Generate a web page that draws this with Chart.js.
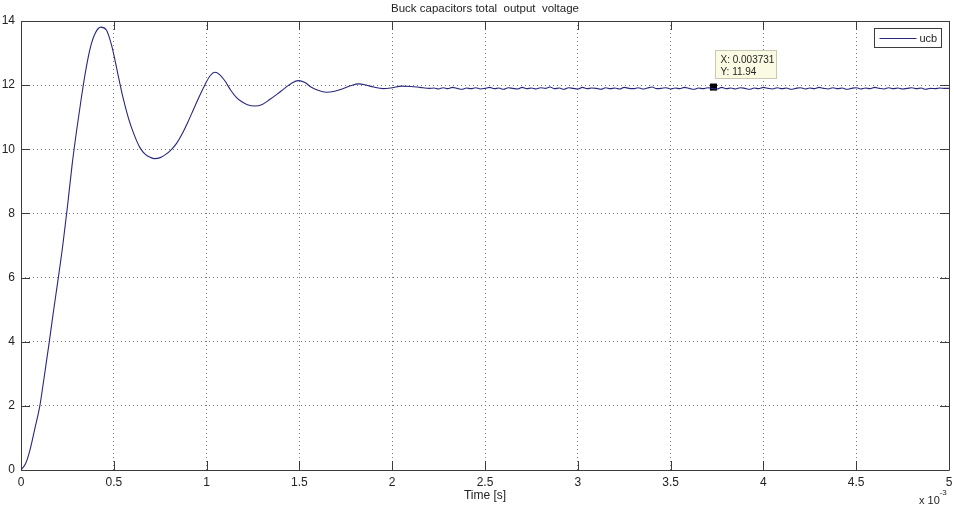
<!DOCTYPE html>
<html>
<head>
<meta charset="utf-8">
<title>Buck capacitors total output voltage</title>
<script src="https://cdn.jsdelivr.net/npm/chart.js@4.4.1/dist/chart.umd.min.js"></script>
<style>
    html, body { margin: 0; padding: 0; background: #fff; }
    canvas { display: block; }
</style>
</head>
<body>
<canvas id="ucbChart" width="954" height="509"></canvas>
<script>
// Simulated buck output voltage, time in ms (axis shows x 10^-3 s)
const timeMs = [
    0, 0.025, 0.05, 0.075, 0.1, 0.125, 0.15, 0.175, 0.2, 0.225,
    0.25, 0.275, 0.3, 0.325, 0.35, 0.375, 0.4, 0.43, 0.46, 0.49,
    0.52, 0.55, 0.58, 0.61, 0.64, 0.67, 0.7, 0.72, 0.75, 0.78,
    0.81, 0.84, 0.87, 0.9, 0.93, 0.96, 0.99, 1.02, 1.045, 1.07,
    1.1, 1.13, 1.16, 1.19, 1.22, 1.26, 1.3, 1.34, 1.38, 1.42,
    1.46, 1.495, 1.53, 1.56, 1.6, 1.645, 1.69, 1.74, 1.78, 1.82,
    1.86, 1.9, 1.95, 2.0, 2.05, 2.1, 2.15, 2.2
];
const ucbStart = [
    0, 0.2, 0.66, 1.3, 1.95, 2.9, 3.9, 4.95, 5.95, 7.0,
    8.2, 9.5, 10.6, 11.6, 12.5, 13.2, 13.62, 13.81, 13.72, 13.2,
    12.4, 11.6, 10.95, 10.45, 10.06, 9.84, 9.74, 9.71, 9.74, 9.84,
    9.99, 10.2, 10.5, 10.86, 11.25, 11.64, 12.0, 12.3, 12.4, 12.33,
    12.12, 11.84, 11.62, 11.48, 11.39, 11.35, 11.4, 11.55, 11.72, 11.9,
    12.07, 12.14, 12.08, 11.95, 11.84, 11.78, 11.81, 11.9, 11.99, 12.04,
    12.0, 11.94, 11.89, 11.92, 11.97, 11.96, 11.93, 11.9
];

// Steady-state ripple, sampled every 0.025 ms from 2.225 ms
const tailStartMs = 2.225;
const tailStepMs = 0.025;
const ucbTail = [
    11.91, 11.88, 11.92, 11.89, 11.93, 11.90, 11.87, 11.91, 11.89, 11.92,
    11.88, 11.90, 11.93, 11.89, 11.91, 11.87, 11.92, 11.90, 11.88, 11.93,
    11.89, 11.91, 11.88, 11.92, 11.90, 11.94, 11.89, 11.91, 11.87, 11.92,
    11.90, 11.88, 11.93, 11.89, 11.91, 11.90, 11.87, 11.92, 11.89, 11.91,
    11.88, 11.93, 11.90, 11.89, 11.92, 11.88, 11.91, 11.94, 11.89, 11.90,
    11.92, 11.88, 11.91, 11.89, 11.93, 11.90, 11.87, 11.91, 11.89, 11.92,
    11.90, 11.88, 11.93, 11.89, 11.91, 11.88, 11.92, 11.90, 11.87, 11.91,
    11.89, 11.93, 11.90, 11.88, 11.92, 11.89, 11.91, 11.87, 11.90, 11.92,
    11.88, 11.91, 11.89, 11.93, 11.90, 11.88, 11.92, 11.89, 11.91, 11.87,
    11.90, 11.92, 11.88, 11.91, 11.89, 11.93, 11.90, 11.88, 11.92, 11.89,
    11.91, 11.88, 11.90, 11.92, 11.89, 11.91, 11.87, 11.90, 11.89, 11.91, 11.90, 11.90
];

const xTicks = [0, 0.5, 1, 1.5, 2, 2.5, 3, 3.5, 4, 4.5, 5];
const yTicks = [0, 2, 4, 6, 8, 10, 12, 14];

// Data cursor
const tipTimeMs = 3.731;
const tipValue = 11.94;

const lineColor = '#27277e';
const axisColor = '#3c3c3c';
const textColor = '#232323';
const fontFamily = '"Liberation Sans", Arial, sans-serif';

const ucbPoints = timeMs.map((t, i) => ({ x: t, y: ucbStart[i] }))
    .concat(ucbTail.map((v, i) => ({ x: tailStartMs + i * tailStepMs, y: v })));

// Box frame with inward ticks, legend, data tip and exponent label
const matlabAxes = {
    id: 'matlabAxes',
    beforeDatasetsDraw(chart) {
        const { ctx, chartArea: a, scales: { x, y } } = chart;
        ctx.save();
        ctx.strokeStyle = axisColor;
        ctx.lineWidth = 1;
        ctx.beginPath();
        ctx.rect(Math.round(a.left) + 0.5, Math.round(a.top) + 0.5,
            Math.round(a.right - a.left), Math.round(a.bottom - a.top));
        const tl = 9;
        xTicks.forEach(v => {
            const px = Math.round(x.getPixelForValue(v)) + 0.5;
            ctx.moveTo(px, a.bottom); ctx.lineTo(px, a.bottom - tl);
            ctx.moveTo(px, a.top); ctx.lineTo(px, a.top + tl);
        });
        yTicks.forEach(v => {
            const py = Math.round(y.getPixelForValue(v)) + 0.5;
            ctx.moveTo(a.left, py); ctx.lineTo(a.left + tl, py);
            ctx.moveTo(a.right, py); ctx.lineTo(a.right - tl, py);
        });
        ctx.stroke();
        ctx.restore();
    },
    afterDraw(chart) {
        const { ctx, chartArea: a, scales: { x, y } } = chart;
        ctx.save();

        // legend
        const lw = 67, lh = 19;
        const lx = Math.round(a.right - 8 - lw) + 0.5;
        const ly = Math.round(a.top + 7) + 0.5;
        ctx.fillStyle = '#fff';
        ctx.fillRect(lx, ly, lw, lh);
        ctx.strokeStyle = axisColor;
        ctx.lineWidth = 1;
        ctx.strokeRect(lx, ly, lw, lh);
        ctx.strokeStyle = lineColor;
        ctx.beginPath();
        ctx.moveTo(lx + 5, ly + 10);
        ctx.lineTo(lx + 42, ly + 10);
        ctx.stroke();
        ctx.fillStyle = textColor;
        ctx.font = '11px ' + fontFamily;
        ctx.textBaseline = 'middle';
        ctx.textAlign = 'left';
        ctx.fillText('ucb', lx + 45, ly + 10);

        // data tip box above the cursor marker
        const px = x.getPixelForValue(tipTimeMs);
        const py = y.getPixelForValue(tipValue);
        const bx = Math.round(px + 2) + 0.5;
        const by = Math.round(py - 37) + 0.5;
        ctx.fillStyle = '#fbfbe4';
        ctx.fillRect(bx, by, 61, 28);
        ctx.strokeStyle = '#c9c9b3';
        ctx.strokeRect(bx, by, 61, 28);
        ctx.fillStyle = textColor;
        ctx.font = '10px ' + fontFamily;
        ctx.fillText('X: ' + (tipTimeMs / 1000).toFixed(6), px + 7, py - 27);
        ctx.fillText('Y: ' + tipValue.toFixed(2), px + 7, py - 15);

        // x 10^-3 exponent under the right end of the x axis
        ctx.textBaseline = 'alphabetic';
        ctx.font = '11px ' + fontFamily;
        ctx.fillText('x 10', a.right - 30, 504);
        ctx.font = '8px ' + fontFamily;
        ctx.fillText('-3', a.right - 9.5, 495);
        ctx.restore();
    }
};

new Chart(document.getElementById('ucbChart'), {
    type: 'line',
    data: {
        datasets: [
            {
                label: 'ucb',
                data: ucbPoints,
                borderColor: lineColor,
                borderWidth: 1.1,
                pointRadius: 0,
                cubicInterpolationMode: 'monotone',
                fill: false
            },
            {
                label: 'cursor',
                data: [{ x: tipTimeMs, y: tipValue }],
                showLine: false,
                pointStyle: 'rect',
                pointRadius: 5,
                backgroundColor: '#000',
                borderColor: '#000',
                borderWidth: 0
            }
        ]
    },
    options: {
        responsive: false,
        animation: false,
        events: [],
        layout: { padding: { left: 0, right: 4, top: 0, bottom: 0 } },
        plugins: {
            legend: { display: false },
            tooltip: { enabled: false },
            title: {
                display: true,
                fullSize: false,
                text: 'Buck capacitors total  output  voltage',
                color: textColor,
                font: { family: fontFamily, size: 11.5, weight: 'normal' },
                padding: { top: 2, bottom: 5.2 }
            }
        },
        scales: {
            x: {
                type: 'linear',
                min: 0,
                max: 5,
                afterBuildTicks: s => { s.ticks = xTicks.map(v => ({ value: v })); },
                afterFit: s => {
                    s.height = 39;
                    s.paddingLeft = 0;
                    s.paddingRight = 0;
                },
                grid: { color: '#7a7a7a', lineWidth: 1, drawTicks: false },
                border: { display: false, dash: [1, 3] },
                ticks: {
                    color: textColor,
                    font: { family: fontFamily, size: 12 },
                    padding: 5,
                    maxRotation: 0,
                    autoSkip: false,
                    callback: v => String(v)
                },
                title: {
                    display: true,
                    text: 'Time [s]',
                    color: textColor,
                    font: { family: fontFamily, size: 12 },
                    padding: { top: 0, bottom: 6 }
                }
            },
            y: {
                min: 0,
                max: 14,
                afterBuildTicks: s => { s.ticks = yTicks.map(v => ({ value: v })); },
                afterFit: s => { s.width = 21; },
                grid: { color: '#7a7a7a', lineWidth: 1, drawTicks: false },
                border: { display: false, dash: [1, 3] },
                ticks: {
                    color: textColor,
                    font: { family: fontFamily, size: 12 },
                    padding: 6,
                    callback: v => String(v)
                }
            }
        }
    },
    plugins: [matlabAxes]
});
</script>
</body>
</html>
